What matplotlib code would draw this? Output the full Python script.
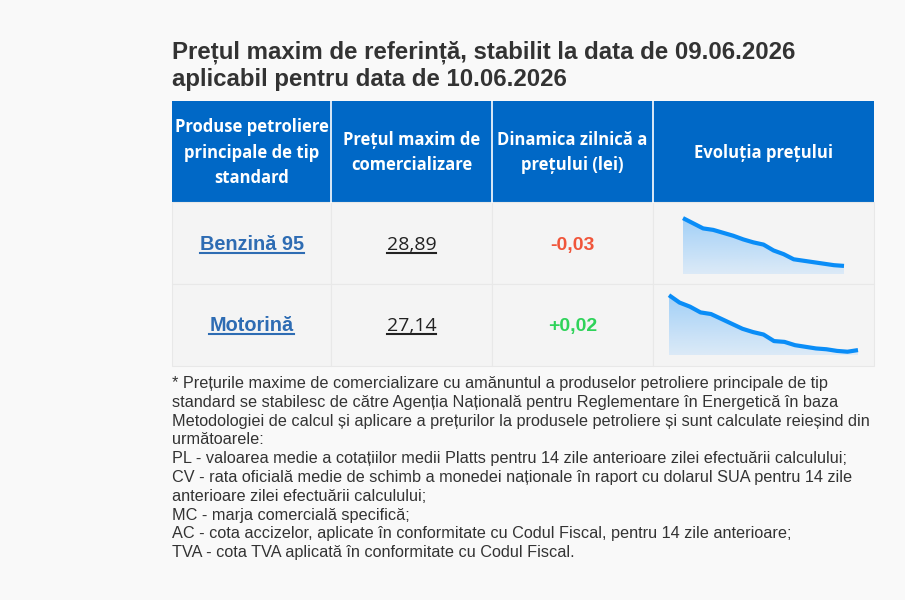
import matplotlib
matplotlib.use("Agg")
import matplotlib.pyplot as plt
import numpy as np
from matplotlib.colors import LinearSegmentedColormap
from matplotlib.lines import Line2D
from matplotlib.patches import Rectangle

# ---------------- data ----------------
title_lines = ["Prețul maxim de referință, stabilit la data de 09.06.2026",
               "aplicabil pentru data de 10.06.2026"]
headers = ["Produse petroliere\nprincipale de tip\nstandard",
           "Prețul maxim de\ncomercializare",
           "Dinamica zilnică a\nprețului (lei)",
           "Evoluția prețului"]
products = ["Benzină 95", "Motorină"]
prices = ["28,89", "27,14"]
changes = ["-0,03", "+0,02"]
benzina_trend = [29.54, 29.47, 29.40, 29.38, 29.34, 29.30, 29.25, 29.21, 29.18,
                 29.10, 29.05, 28.98, 28.96, 28.94, 28.92, 28.90, 28.89]
motorina_trend = [27.81, 27.72, 27.67, 27.60, 27.58, 27.52, 27.46, 27.40, 27.36,
                  27.33, 27.25, 27.24, 27.20, 27.18, 27.16, 27.15, 27.13, 27.12, 27.14]
footnote = [
    "* Prețurile maxime de comercializare cu amănuntul a produselor petroliere principale de tip",
    "standard se stabilesc de către Agenția Națională pentru Reglementare în Energetică în baza",
    "Metodologiei de calcul și aplicare a prețurilor la produsele petroliere și sunt calculate reieșind din",
    "următoarele:",
    "PL - valoarea medie a cotațiilor medii Platts pentru 14 zile anterioare zilei efectuării calculului;",
    "CV - rata oficială medie de schimb a monedei naționale în raport cu dolarul SUA pentru 14 zile",
    "anterioare zilei efectuării calculului;",
    "MC - marja comercială specifică;",
    "AC - cota accizelor, aplicate în conformitate cu Codul Fiscal, pentru 14 zile anterioare;",
    "TVA - cota TVA aplicată în conformitate cu Codul Fiscal.",
]

# ---------------- layout ----------------
W, H = 905, 600
fig = plt.figure(figsize=(W / 100, H / 100), dpi=100)
fig.patch.set_facecolor("#f9f9f9")

def fx(x):
    return x / W

def fy(y):
    return 1 - y / H

ARIAL = ["Liberation Sans", "DejaVu Sans"]
OPEN = ["Open Sans", "DejaVu Sans"]

# title
for i, t in enumerate(title_lines):
    fig.text(fx(172), fy(58 + 28 * i), t, family=ARIAL, weight="bold",
             fontsize=17.3, color="#333333", va="baseline", ha="left")

col_x = [172, 331, 492, 653, 874]
head_top, head_bot = 101, 202
row_y = [202, 284, 366]

# header background
fig.patches.append(Rectangle((fx(col_x[0]), fy(head_bot)), fx(col_x[-1] - col_x[0]),
                             (head_bot - head_top) / H, transform=fig.transFigure,
                             facecolor="#0068c6", edgecolor="none", zorder=1))
for x in col_x[1:-1]:
    fig.lines.append(Line2D([fx(x), fx(x)], [fy(head_top), fy(head_bot)],
                            transform=fig.transFigure, color="white", lw=1.2, zorder=2))
for j, h in enumerate(headers):
    cx = (col_x[j] + col_x[j + 1]) / 2
    fig.text(fx(cx), fy((head_top + head_bot) / 2 + 1), h, family=OPEN, weight="bold",
             fontsize=12, color="white", ha="center", va="center",
             linespacing=1.57, zorder=3)

# body cells
for r in range(2):
    for j in range(4):
        fig.patches.append(Rectangle((fx(col_x[j]), fy(row_y[r + 1])),
                                     fx(col_x[j + 1] - col_x[j]),
                                     (row_y[r + 1] - row_y[r]) / H,
                                     transform=fig.transFigure, facecolor="#f4f4f4",
                                     edgecolor="#e8e8e8", lw=0.8, zorder=1))

underlined = []
baselines = [250, 331]
for r in range(2):
    b = baselines[r]
    t1 = fig.text(fx((col_x[0] + col_x[1]) / 2), fy(b), products[r], family=ARIAL,
                  weight="bold", fontsize=14.3, color="#2e6cb3", ha="center",
                  va="baseline", zorder=3)
    t2 = fig.text(fx((col_x[1] + col_x[2]) / 2), fy(b), prices[r], family=OPEN,
                  fontsize=14, color="#222222", ha="center", va="baseline", zorder=3)
    col = "#f0553a" if changes[r].startswith("-") else "#2fd35a"
    fig.text(fx((col_x[2] + col_x[3]) / 2), fy(b), changes[r], family=ARIAL,
             weight="bold", fontsize=14, color=col, ha="center", va="baseline", zorder=3)
    underlined.append((t1, b, "#2e6cb3"))
    underlined.append((t2, b, "#222222"))

# sparklines
cmap = LinearSegmentedColormap.from_list("g", ["#dceaf7", "#a2d0f7"])

def spark(vals, left, right, top, bottom, base):
    ax = fig.add_axes([fx(left), fy(bottom), fx(right - left), (bottom - top) / H])
    ax.set_zorder(4)
    x = np.arange(len(vals))
    ax.set_xlim(0, len(vals) - 1)
    ax.set_ylim(base, max(vals) + (max(vals) - base) * 0.02)
    poly = ax.fill_between(x, vals, base, color="none", lw=0)
    grad = np.linspace(0, 1, 256).reshape(-1, 1)
    im = ax.imshow(grad, aspect="auto", cmap=cmap, origin="lower",
                   extent=[0, len(vals) - 1, base, max(vals)], zorder=1)
    im.set_clip_path(poly.get_paths()[0], transform=ax.transData)
    ax.plot(x, vals, color="#0a8df7", lw=3.0, solid_capstyle="butt",
            solid_joinstyle="round", zorder=2, clip_on=False)
    ax.axis("off")

spark(benzina_trend, 683, 844, 217, 274, 28.78)
spark(motorina_trend, 669, 858, 294, 355, 27.08)

# footnote
for i, line in enumerate(footnote):
    fig.text(fx(172), fy(388 + 18.8 * i), line, family=ARIAL, fontsize=11.74,
             color="#333333", ha="left", va="baseline")

# underlines
fig.canvas.draw()
for t, b, c in underlined:
    bb = t.get_window_extent()
    y = fy(b + 2.5)
    fig.lines.append(Line2D([bb.x0 / W, bb.x1 / W], [y, y], transform=fig.transFigure,
                            color=c, lw=1.5, zorder=3))

fig.savefig("out.png", dpi=100, facecolor=fig.get_facecolor())
